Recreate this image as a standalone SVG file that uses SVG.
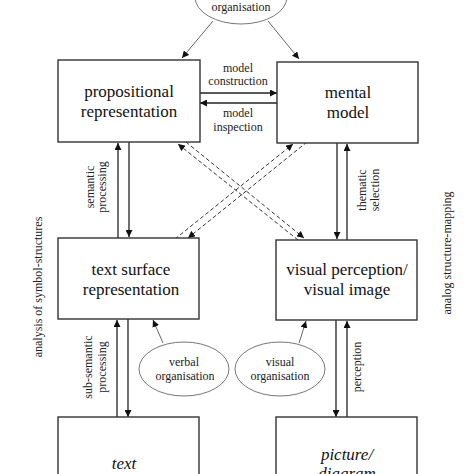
<svg xmlns="http://www.w3.org/2000/svg" width="474" height="474" viewBox="0 0 474 474">
<style>
.box{fill:#fff;stroke:#333;stroke-width:1.4}
.ell{fill:#fff;stroke:#777;stroke-width:1}
.big{font-family:"Liberation Serif","Times New Roman",serif;font-size:17px;fill:#111;text-anchor:middle}
.sm{font-family:"Liberation Serif","Times New Roman",serif;font-size:12px;fill:#222;text-anchor:middle}
.ln{stroke:#222;stroke-width:1.3;fill:none}
.dl{stroke:#333;stroke-width:1;fill:none;stroke-dasharray:4,2.5}
.gl{stroke:#666;stroke-width:1;fill:none}
</style>
<defs>
<marker id="ah" viewBox="0 0 10 10" refX="10" refY="5" markerWidth="7" markerHeight="7" markerUnits="userSpaceOnUse" orient="auto">
<path d="M0,0 L10,5 L0,10 z" fill="#111"/>
</marker>
</defs>
<rect width="474" height="474" fill="#fff"/>

<g id="connectors">
<line class="gl" x1="213" y1="21" x2="182" y2="58" marker-end="url(#ah)"/>
<line class="gl" x1="268" y1="21" x2="299" y2="59" marker-end="url(#ah)"/>
<line class="ln" x1="200" y1="93" x2="277" y2="93" marker-end="url(#ah)"/>
<line class="ln" x1="277" y1="103" x2="200" y2="103" marker-end="url(#ah)"/>
<line class="ln" x1="118" y1="238" x2="118" y2="143" marker-end="url(#ah)"/>
<line class="ln" x1="129" y1="142" x2="129" y2="237" marker-end="url(#ah)"/>
<line class="ln" x1="337" y1="143" x2="337" y2="239" marker-end="url(#ah)"/>
<line class="ln" x1="347" y1="240" x2="347" y2="144" marker-end="url(#ah)"/>
<line class="dl" x1="298" y1="240" x2="178" y2="144" marker-end="url(#ah)"/>
<line class="dl" x1="186" y1="142" x2="304" y2="238" marker-end="url(#ah)"/>
<line class="dl" x1="175" y1="239" x2="293" y2="144" marker-end="url(#ah)"/>
<line class="dl" x1="307" y1="142" x2="188" y2="238" marker-end="url(#ah)"/>
<line class="ln" x1="117" y1="417" x2="117" y2="320" marker-end="url(#ah)"/>
<line class="ln" x1="128" y1="319" x2="128" y2="417" marker-end="url(#ah)"/>
<line class="ln" x1="336" y1="320" x2="336" y2="417" marker-end="url(#ah)"/>
<line class="ln" x1="347" y1="417" x2="347" y2="321" marker-end="url(#ah)"/>
<line class="gl" x1="163" y1="343" x2="153" y2="320" marker-end="url(#ah)"/>
<line class="gl" x1="299" y1="343" x2="306" y2="321" marker-end="url(#ah)"/>
<text class="sm" x="238" y="72">model</text>
<text class="sm" x="238" y="85">construction</text>
<text class="sm" x="238" y="117">model</text>
<text class="sm" x="238" y="131">inspection</text>
<text class="sm" transform="translate(94,187) rotate(-90)">semantic</text>
<text class="sm" transform="translate(106,187) rotate(-90)">processing</text>
<text class="sm" transform="translate(366,190) rotate(-90)">thematic</text>
<text class="sm" transform="translate(379,190) rotate(-90)">selection</text>
<text class="sm" transform="translate(92,367) rotate(-90)">sub-semantic</text>
<text class="sm" transform="translate(106,367) rotate(-90)">processing</text>
<text class="sm" transform="translate(361,367) rotate(-90)">perception</text>
</g>

<g id="side-left"><text class="sm" transform="translate(42,287) rotate(-90)">analysis of symbol-structures</text></g>
<g id="side-right"><text class="sm" transform="translate(451,253) rotate(-90)">analog structure-mapping</text></g>

<g id="top-organisation">
<ellipse class="ell" cx="241" cy="-3" rx="46" ry="27"/>
<text class="sm" x="241" y="11">organisation</text>
</g>

<g id="propositional">
<rect class="box" x="58" y="60" width="142" height="82"/>
<text class="big" x="129" y="97">propositional</text>
<text class="big" x="129" y="117">representation</text>
</g>

<g id="mental-model">
<rect class="box" x="277" y="62" width="141" height="81"/>
<text class="big" x="348" y="98">mental</text>
<text class="big" x="348" y="118">model</text>
</g>

<g id="text-surface">
<rect class="box" x="58" y="238" width="141" height="81"/>
<text class="big" x="131" y="275">text surface</text>
<text class="big" x="131" y="295">representation</text>
</g>

<g id="visual-perception">
<rect class="box" x="276" y="240" width="141" height="80"/>
<text class="big" x="347" y="275">visual perception/</text>
<text class="big" x="347" y="295">visual image</text>
</g>

<g id="verbal-organisation">
<ellipse class="ell" cx="184" cy="369" rx="45" ry="27"/>
<text class="sm" x="184" y="366">verbal</text>
<text class="sm" x="185" y="380">organisation</text>
</g>

<g id="visual-organisation">
<ellipse class="ell" cx="280" cy="369" rx="45" ry="27"/>
<text class="sm" x="280" y="366">visual</text>
<text class="sm" x="280" y="380">organisation</text>
</g>

<g id="text">
<rect class="box" x="58" y="417" width="141" height="80"/>
<text class="big" x="124" y="469" font-style="italic">text</text>
</g>

<g id="picture-diagram">
<rect class="box" x="276" y="417" width="141" height="80"/>
<text class="big" x="347" y="460" font-style="italic">picture/</text>
<text class="big" x="347" y="479" font-style="italic">diagram</text>
</g>
</svg>
